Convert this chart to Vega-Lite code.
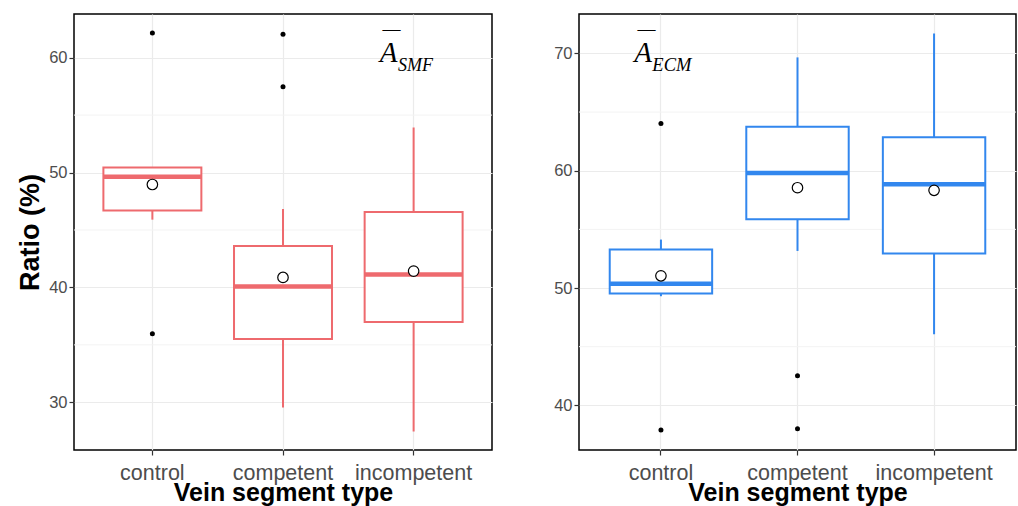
{
  "$schema": "https://vega.github.io/schema/vega-lite/v6.json",
  "padding": {"left": 15, "top": 13, "right": 5, "bottom": 0},
  "spacing": 58,
  "config": {
    "font": "Liberation Sans",
    "view": {"stroke": "black", "strokeWidth": 1.5},
    "axis": {
      "domain": false,
      "gridColor": "#EBEBEB",
      "gridWidth": 1.2,
      "tickColor": "#333333",
      "tickSize": 5,
      "tickWidth": 1.2,
      "labelColor": "#4D4D4D",
      "labelFont": "Liberation Sans",
      "titleFont": "Liberation Sans",
      "titleColor": "black",
      "titleFontWeight": "bold"
    }
  },
  "datasets": {
    "boxes": [
      {"panel": "left", "group": "control", "lo": 45.9, "q1": 46.7, "med": 49.63, "q3": 50.44, "hi": 50.44, "mean": 48.96},
      {"panel": "left", "group": "competent", "lo": 29.55, "q1": 35.52, "med": 40.08, "q3": 43.6, "hi": 46.82, "mean": 40.87},
      {"panel": "left", "group": "incompetent", "lo": 27.47, "q1": 37.0, "med": 41.12, "q3": 46.56, "hi": 53.93, "mean": 41.42},
      {"panel": "right", "group": "control", "lo": 49.3, "q1": 49.54, "med": 50.36, "q3": 53.28, "hi": 54.13, "mean": 51.04},
      {"panel": "right", "group": "competent", "lo": 53.16, "q1": 55.86, "med": 59.8, "q3": 63.74, "hi": 69.66, "mean": 58.55},
      {"panel": "right", "group": "incompetent", "lo": 46.05, "q1": 52.94, "med": 58.84, "q3": 62.86, "hi": 71.7, "mean": 58.33}
    ],
    "outliers": [
      {"panel": "left", "group": "control", "value": 62.15},
      {"panel": "left", "group": "control", "value": 35.96},
      {"panel": "left", "group": "competent", "value": 62.03},
      {"panel": "left", "group": "competent", "value": 57.47},
      {"panel": "right", "group": "control", "value": 64.02},
      {"panel": "right", "group": "control", "value": 37.89},
      {"panel": "right", "group": "competent", "value": 42.51},
      {"panel": "right", "group": "competent", "value": 38.0}
    ],
    "minor": [
      {"panel": "left", "value": 35},
      {"panel": "left", "value": 45},
      {"panel": "left", "value": 55},
      {"panel": "right", "value": 45},
      {"panel": "right", "value": 55},
      {"panel": "right", "value": 65}
    ],
    "labels": [
      {"panel": "left", "group": "incompetent", "value": 59.6, "main": "A", "sub": "SMF", "bar": "—"},
      {"panel": "right", "group": "control", "value": 69.23, "main": "A", "sub": "ECM", "bar": "—"}
    ]
  },
  "hconcat": [
    {
      "width": 418,
      "height": 436,
      "layer": [
        {
          "data": {"name": "minor"},
          "transform": [{"filter": "datum.panel === 'left'"}],
          "mark": {"type": "rule", "color": "#F3F3F3", "strokeWidth": 1},
          "encoding": {
            "y": {"field": "value", "type": "quantitative", "scale": {"domain": [25.85, 63.8], "nice": false, "zero": false}, "axis": {"values": [30, 40, 50, 60], "labelFontSize": 16.5, "titleFontSize": 27, "titlePadding": 4}, "title": "Ratio (%)"}
          }
        },
        {
          "data": {"name": "boxes"},
          "transform": [{"filter": "datum.panel === 'left'"}],
          "layer": [
            {
              "mark": {"type": "rule", "color": "#EE6A6E", "strokeWidth": 2},
              "encoding": {
                "x": {"field": "group", "type": "nominal", "sort": ["control", "competent", "incompetent"], "scale": {"domain": ["control", "competent", "incompetent"], "paddingInner": 0.25, "paddingOuter": 0.225}, "axis": {"bandPosition": 0.5, "labelAngle": 0, "labelFontSize": 21.5, "labelPadding": 7, "titleFontSize": 25, "titlePadding": -3, "grid": true}, "title": "Vein segment type"},
                "y": {"field": "lo", "type": "quantitative"},
                "y2": {"field": "hi"}
              }
            },
            {
              "mark": {"type": "bar", "fill": "white", "stroke": "#EE6A6E", "strokeWidth": 2},
              "encoding": {
                "x": {"field": "group", "type": "nominal"},
                "y": {"field": "q1", "type": "quantitative"},
                "y2": {"field": "q3"}
              }
            },
            {
              "mark": {"type": "tick", "color": "#EE6A6E", "size": 98, "thickness": 4.5, "opacity": 1},
              "encoding": {
                "x": {"field": "group", "type": "nominal"},
                "y": {"field": "med", "type": "quantitative"}
              }
            },
            {
              "mark": {"type": "point", "shape": "circle", "size": 110, "filled": false, "fill": "white", "fillOpacity": 1, "stroke": "black", "strokeWidth": 1.2, "opacity": 1},
              "encoding": {
                "x": {"field": "group", "type": "nominal"},
                "y": {"field": "mean", "type": "quantitative"}
              }
            }
          ]
        },
        {
          "data": {"name": "outliers"},
          "transform": [{"filter": "datum.panel === 'left'"}],
          "mark": {"type": "circle", "color": "black", "size": 25, "opacity": 1},
          "encoding": {
            "x": {"field": "group", "type": "nominal"},
            "y": {"field": "value", "type": "quantitative"}
          }
        },
        {
          "data": {"name": "labels"},
          "transform": [{"filter": "datum.panel === 'left'"}],
          "layer": [
            {
              "mark": {"type": "text", "font": "Liberation Serif", "fontStyle": "italic", "fontSize": 29, "align": "left", "baseline": "alphabetic", "dx": -34, "color": "black"},
              "encoding": {"x": {"field": "group", "type": "nominal"}, "y": {"field": "value", "type": "quantitative"}, "text": {"field": "main"}}
            },
            {
              "mark": {"type": "text", "font": "Liberation Serif", "fontStyle": "italic", "fontSize": 18, "align": "left", "baseline": "alphabetic", "dx": -15.7, "dy": 8.3, "color": "black"},
              "encoding": {"x": {"field": "group", "type": "nominal"}, "y": {"field": "value", "type": "quantitative"}, "text": {"field": "sub"}}
            },
            {
              "mark": {"type": "text", "font": "Liberation Serif", "fontSize": 18, "align": "center", "baseline": "alphabetic", "dx": -22.2, "dy": -27.5, "color": "black"},
              "encoding": {"x": {"field": "group", "type": "nominal"}, "y": {"field": "value", "type": "quantitative"}, "text": {"field": "bar"}}
            }
          ]
        }
      ]
    },
    {
      "width": 437,
      "height": 436,
      "layer": [
        {
          "data": {"name": "minor"},
          "transform": [{"filter": "datum.panel === 'right'"}],
          "mark": {"type": "rule", "color": "#F3F3F3", "strokeWidth": 1},
          "encoding": {
            "y": {"field": "value", "type": "quantitative", "scale": {"domain": [36.19, 73.36], "nice": false, "zero": false}, "axis": {"values": [40, 50, 60, 70], "labelFontSize": 16.5}, "title": null}
          }
        },
        {
          "data": {"name": "boxes"},
          "transform": [{"filter": "datum.panel === 'right'"}],
          "layer": [
            {
              "mark": {"type": "rule", "color": "#3287EE", "strokeWidth": 2},
              "encoding": {
                "x": {"field": "group", "type": "nominal", "sort": ["control", "competent", "incompetent"], "scale": {"domain": ["control", "competent", "incompetent"], "paddingInner": 0.25, "paddingOuter": 0.225}, "axis": {"bandPosition": 0.5, "labelAngle": 0, "labelFontSize": 21.5, "labelPadding": 7, "titleFontSize": 25, "titlePadding": -3, "grid": true}, "title": "Vein segment type"},
                "y": {"field": "lo", "type": "quantitative"},
                "y2": {"field": "hi"}
              }
            },
            {
              "mark": {"type": "bar", "fill": "white", "stroke": "#3287EE", "strokeWidth": 2},
              "encoding": {
                "x": {"field": "group", "type": "nominal"},
                "y": {"field": "q1", "type": "quantitative"},
                "y2": {"field": "q3"}
              }
            },
            {
              "mark": {"type": "tick", "color": "#3287EE", "size": 102, "thickness": 4.5, "opacity": 1},
              "encoding": {
                "x": {"field": "group", "type": "nominal"},
                "y": {"field": "med", "type": "quantitative"}
              }
            },
            {
              "mark": {"type": "point", "shape": "circle", "size": 110, "filled": false, "fill": "white", "fillOpacity": 1, "stroke": "black", "strokeWidth": 1.2, "opacity": 1},
              "encoding": {
                "x": {"field": "group", "type": "nominal"},
                "y": {"field": "mean", "type": "quantitative"}
              }
            }
          ]
        },
        {
          "data": {"name": "outliers"},
          "transform": [{"filter": "datum.panel === 'right'"}],
          "mark": {"type": "circle", "color": "black", "size": 25, "opacity": 1},
          "encoding": {
            "x": {"field": "group", "type": "nominal"},
            "y": {"field": "value", "type": "quantitative"}
          }
        },
        {
          "data": {"name": "labels"},
          "transform": [{"filter": "datum.panel === 'right'"}],
          "layer": [
            {
              "mark": {"type": "text", "font": "Liberation Serif", "fontStyle": "italic", "fontSize": 29, "align": "left", "baseline": "alphabetic", "dx": -26.6, "color": "black"},
              "encoding": {"x": {"field": "group", "type": "nominal"}, "y": {"field": "value", "type": "quantitative"}, "text": {"field": "main"}}
            },
            {
              "mark": {"type": "text", "font": "Liberation Serif", "fontStyle": "italic", "fontSize": 18.5, "align": "left", "baseline": "alphabetic", "dx": -8.6, "dy": 8.3, "color": "black"},
              "encoding": {"x": {"field": "group", "type": "nominal"}, "y": {"field": "value", "type": "quantitative"}, "text": {"field": "sub"}}
            },
            {
              "mark": {"type": "text", "font": "Liberation Serif", "fontSize": 18, "align": "center", "baseline": "alphabetic", "dx": -14.4, "dy": -27.5, "color": "black"},
              "encoding": {"x": {"field": "group", "type": "nominal"}, "y": {"field": "value", "type": "quantitative"}, "text": {"field": "bar"}}
            }
          ]
        }
      ]
    }
  ]
}
